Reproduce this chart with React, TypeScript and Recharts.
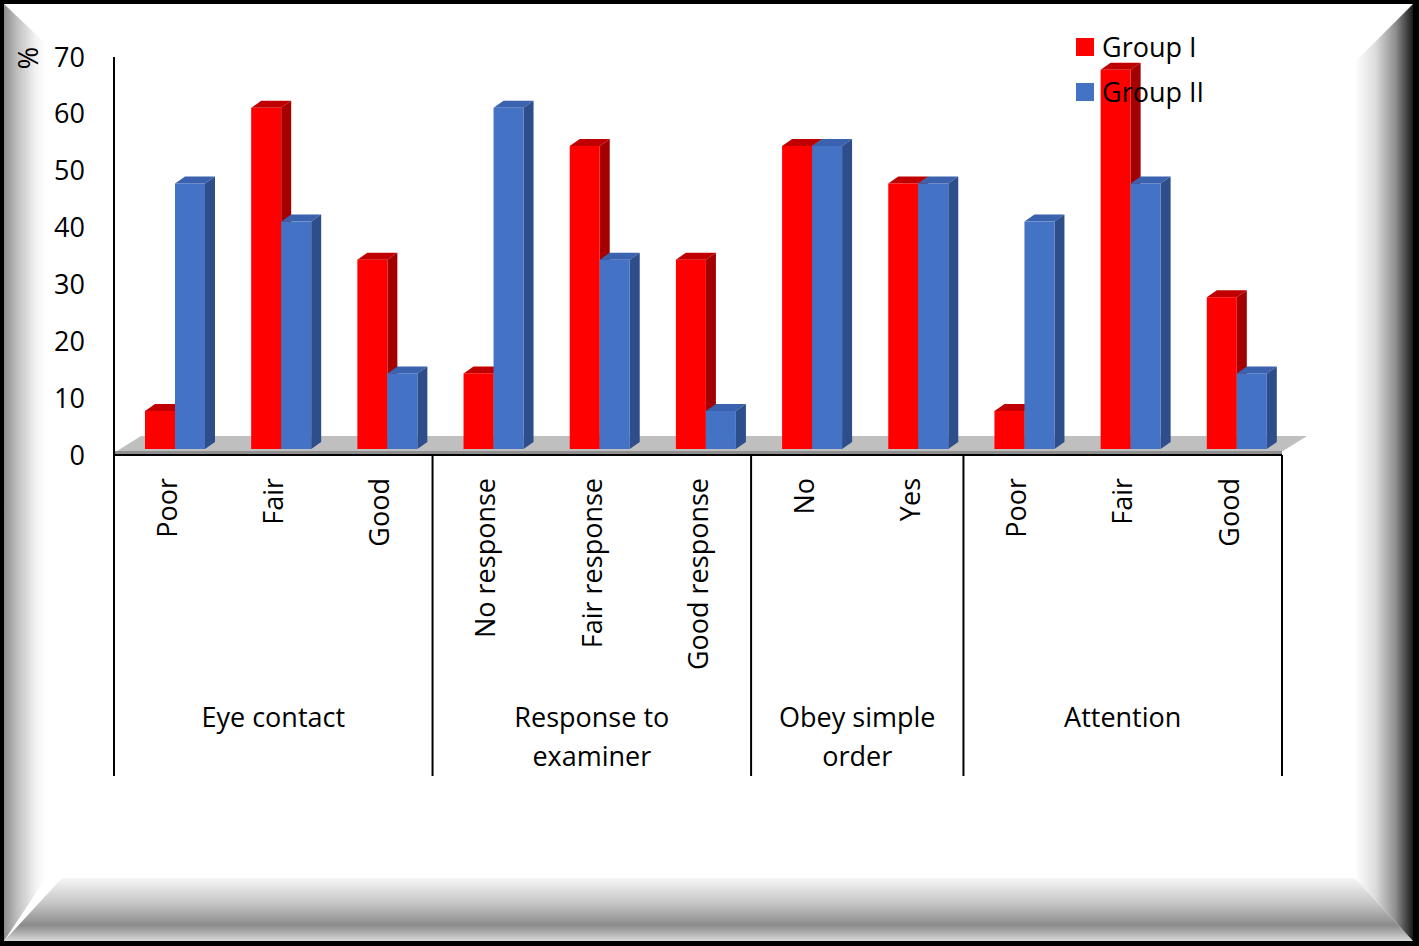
import React from 'react';
import { BarChart, Bar, XAxis, YAxis, Legend } from 'recharts';

// ---------- data ----------
const categories = ['Poor', 'Fair', 'Good', 'No response', 'Fair response', 'Good response', 'No', 'Yes', 'Poor', 'Fair', 'Good'];
const groupI = [6.7, 60, 33.3, 13.3, 53.3, 33.3, 53.3, 46.7, 6.7, 66.7, 26.7];
const groupII = [46.7, 40, 13.3, 60, 33.3, 6.7, 53.3, 46.7, 40, 46.7, 13.3];
const groupLines = [['Eye contact'], ['Response to', 'examiner'], ['Obey simple', 'order'], ['Attention']];
const groupSizes = [3, 3, 2, 3];
const yTicks = [0, 10, 20, 30, 40, 50, 60, 70];
const seriesNames = ['Group I', 'Group II'];

const data = categories.map((c, i) => ({ cat: c, g1: groupI[i], g2: groupII[i] }));

// ---------- layout / style ----------
const W = 1419;
const H = 946;
const MARGIN = { top: 57, right: 137, left: 0, bottom: 161 };
const YAXIS_W = 114;
const XAXIS_H = 330;
const PLOT_LEFT = MARGIN.left + YAXIS_W;
const PLOT_RIGHT = W - MARGIN.right;
const PLOT_BOTTOM = H - MARGIN.bottom - XAXIS_H;
const PLOT_W = PLOT_RIGHT - PLOT_LEFT;
const BAND = PLOT_W / categories.length;
const FONT = '"Open Sans", sans-serif';
const FS = 27;

const RED = { front: '#FF0000', top: '#C00000', side: '#A30000' };
const BLUE = { front: '#4472C4', top: '#3A62AE', side: '#2D4E8A' };
const SHIFT_X = 8;
const SHIFT_Y = -6;
const DEPTH_X = 10;
const DEPTH_Y = 7;

const makeShape = (col: { front: string; top: string; side: string }) => (props: any) => {
  const { x, y, width, height } = props;
  if (width == null || height == null) return null;
  const fx = x + SHIFT_X;
  const fy = y + SHIFT_Y;
  const fb = y + height + SHIFT_Y;
  const w = width;
  return (
    <g>
      <polygon
        points={`${fx},${fy} ${fx + DEPTH_X},${fy - DEPTH_Y} ${fx + w + DEPTH_X},${fy - DEPTH_Y} ${fx + w},${fy}`}
        fill={col.top}
      />
      <polygon
        points={`${fx + w},${fy} ${fx + w + DEPTH_X},${fy - DEPTH_Y} ${fx + w + DEPTH_X},${fb - DEPTH_Y} ${fx + w},${fb}`}
        fill={col.side}
      />
      <rect x={fx} y={fy} width={w} height={fb - fy} fill={col.front} />
    </g>
  );
};

const groupStart: number[] = [];
const groupIndexOf: number[] = [];
{
  let idx = 0;
  groupSizes.forEach((s, g) => {
    groupStart.push(idx);
    for (let k = 0; k < s; k++) groupIndexOf.push(g);
    idx += s;
  });
}

const CatTick = (props: any) => {
  const { x, y, payload } = props;
  const i = payload.index;
  const g = groupIndexOf[i];
  const isFirst = groupStart[g] === i;
  const isLast = i === categories.length - 1;
  const ly = y + 23;
  return (
    <g>
      <text
        x={x}
        y={ly}
        transform={`rotate(-90, ${x}, ${ly})`}
        textAnchor="end"
        dy="0.36em"
        fontFamily={FONT}
        fontSize={FS}
        fill="#000"
      >
        {payload.value}
      </text>
      {isFirst && (
        <line x1={x - BAND / 2} x2={x - BAND / 2} y1={y} y2={y + 321} stroke="#000" strokeWidth={2} />
      )}
      {isLast && (
        <line x1={x + BAND / 2} x2={x + BAND / 2} y1={y} y2={y + 321} stroke="#000" strokeWidth={2} />
      )}
      {isFirst &&
        groupLines[g].map((line, k) => (
          <text
            key={k}
            x={x - BAND / 2 + (groupSizes[g] * BAND) / 2}
            y={y + 262 + k * 39}
            textAnchor="middle"
            dy="0.36em"
            fontFamily={FONT}
            fontSize={FS}
            fill="#000"
          >
            {line}
          </text>
        ))}
    </g>
  );
};

const PercentLabel = (props: any) => {
  const vb = props.viewBox || { x: 0, y: MARGIN.top };
  const cx = vb.x + 28;
  const cy = vb.y + 1;
  return (
    <text
      x={cx}
      y={cy}
      transform={`rotate(-90, ${cx}, ${cy})`}
      textAnchor="middle"
      dy="0.36em"
      fontFamily={FONT}
      fontSize={FS}
      fill="#000"
    >
      %
    </text>
  );
};

const LegendContent = () => (
  <div style={{ fontFamily: FONT, fontSize: FS, color: '#000' }}>
    {seriesNames.map((n, i) => (
      <div key={n} style={{ display: 'flex', alignItems: 'center', height: 45, lineHeight: 1, whiteSpace: 'nowrap' }}>
        <span
          style={{
            display: 'inline-block',
            width: 18,
            height: 18,
            background: i === 0 ? RED.front : BLUE.front,
            marginRight: 8,
          }}
        />
        <span>{n}</span>
      </div>
    ))}
  </div>
);

const Frame = () => (
  <svg width={W} height={H} style={{ position: 'absolute', left: 0, top: 0 }}>
    <defs>
      <linearGradient id="lg" x1="0" y1="0" x2="1" y2="0">
        <stop offset="0" stopColor="#8c8c8c" />
        <stop offset="0.3" stopColor="#bdbdbd" />
        <stop offset="0.75" stopColor="#f2f2f2" />
        <stop offset="1" stopColor="#ffffff" />
      </linearGradient>
      <linearGradient id="rg" x1="0" y1="0" x2="1" y2="0">
        <stop offset="0" stopColor="#ffffff" />
        <stop offset="0.35" stopColor="#dcdcdc" />
        <stop offset="0.7" stopColor="#8e8e8e" />
        <stop offset="1" stopColor="#1a1a1a" />
      </linearGradient>
      <linearGradient id="bg" x1="0" y1="0" x2="0" y2="1">
        <stop offset="0" stopColor="#f6f6f6" />
        <stop offset="0.4" stopColor="#c6c6c6" />
        <stop offset="0.75" stopColor="#8b8b8b" />
        <stop offset="0.9" stopColor="#b8b8b8" />
        <stop offset="1" stopColor="#dadada" />
      </linearGradient>
    </defs>
    <rect x={0} y={0} width={W} height={H} fill="#000" />
    <rect x={4} y={4} width={1409} height={937} fill="#fff" />
    <polygon points="4,4 46,44 46,878 4,941" fill="url(#lg)" />
    <polygon points="4,941 62,878 1355,878 1413,941" fill="url(#bg)" />
    <polygon points="1413,4 1355,62 1355,878 1413,941" fill="url(#rg)" />
    {/* floor of the 3D plot */}
    <polygon
      points={`${PLOT_LEFT + 3},${PLOT_BOTTOM - 4} ${PLOT_LEFT + 27},${PLOT_BOTTOM - 19} ${PLOT_RIGHT + 25},${PLOT_BOTTOM - 19} ${PLOT_RIGHT + 1},${PLOT_BOTTOM - 4}`}
      fill="#BFBFBF"
    />
    <rect x={PLOT_LEFT} y={PLOT_BOTTOM - 4} width={PLOT_W} height={4} fill="#8f8f8f" />
  </svg>
);

export default function App() {
  return (
    <div style={{ position: 'absolute', left: 0, top: 0, width: W, height: H, overflow: 'hidden' }}>
      <Frame />
      <div style={{ position: 'absolute', left: 0, top: 0 }}>
        <BarChart width={W} height={H} data={data} margin={MARGIN} barCategoryGap={23} barGap={0}>
          <XAxis
            dataKey="cat"
            height={XAXIS_H}
            interval={0}
            tickLine={false}
            tickSize={0}
            tickMargin={0}
            axisLine={{ stroke: '#000', strokeWidth: 2 }}
            tick={<CatTick />}
          />
          <YAxis
            width={YAXIS_W}
            domain={[0, 70]}
            ticks={yTicks}
            interval={0}
            tickLine={false}
            tickSize={0}
            tickMargin={29}
            axisLine={{ stroke: '#000', strokeWidth: 2 }}
            tick={{ fontFamily: FONT, fontSize: FS, fill: '#000' }}
            label={<PercentLabel />}
          />
          <Legend
            layout="vertical"
            align="center"
            verticalAlign="middle"
            wrapperStyle={{ top: 24, left: 1076, width: 220 }}
            content={<LegendContent />}
          />
          <Bar dataKey="g1" name={seriesNames[0]} fill={RED.front} shape={makeShape(RED)} isAnimationActive={false} />
          <Bar dataKey="g2" name={seriesNames[1]} fill={BLUE.front} shape={makeShape(BLUE)} isAnimationActive={false} />
        </BarChart>
      </div>
    </div>
  );
}
